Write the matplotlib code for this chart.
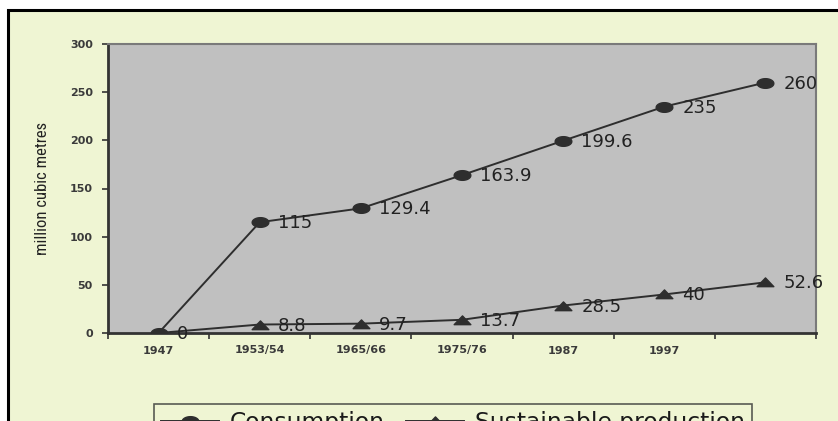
import matplotlib
matplotlib.use("Agg")
import matplotlib.pyplot as plt
from matplotlib.path import Path
from matplotlib.patches import Rectangle
from matplotlib import font_manager
import numpy as np

# ---- data ----
categories = ["1947", "1953/54", "1965/66", "1975/76", "1987", "1997", ""]
consumption = [0, 115, 129.4, 163.9, 199.6, 235, 260]
sustainable = [0, 8.8, 9.7, 13.7, 28.5, 40, 52.6]
consumption_labels = ["0", "115", "129.4", "163.9", "199.6", "235", "260"]
sustainable_labels = ["", "8.8", "9.7", "13.7", "28.5", "40", "52.6"]
series_names = ["Consumption", "Sustainable production"]
y_label = "million cubic metres"

W, H = 838, 421
DPI = 100
BG = "#EFF5D3"
PLOT_BG = "#C0C0C0"
LINE_C = "#2E2E2E"

# pick a condensed font for the y label if one is installed
names = {f.name for f in font_manager.fontManager.ttflist}
cond_fam = None
for cand in ["Liberation Sans Narrow", "Arial Narrow", "Roboto Condensed", "Open Sans Condensed"]:
    if cand in names:
        cond_fam = cand
        break
ylab_kw = {}
if cond_fam:
    ylab_kw = dict(family=[cond_fam, "DejaVu Sans"], fontsize=12)
else:
    cond = [f for f in font_manager.fontManager.ttflist
            if f.name == "DejaVu Sans" and "ondensed" in str(f.stretch) + f.fname]
    if cond:
        ylab_kw = dict(family="DejaVu Sans", fontstretch="condensed", fontsize=11)
    else:
        ylab_kw = dict(family="Liberation Sans", fontsize=11)

fig = plt.figure(figsize=(W / DPI, H / DPI), dpi=DPI, facecolor="white")

# outer frame (black border top/left, pale fill)
frame = Rectangle((8 / W, -0.05), 1.1, 1 - 10 / H + 0.05, transform=fig.transFigure,
                  facecolor=BG, edgecolor="black", linewidth=2.2, zorder=-10)
fig.patches.append(frame)

# flattened marker shapes (the chart is stretched horizontally)
t = np.linspace(0, 2 * np.pi, 40)
ell = Path(np.column_stack([np.cos(t), 0.58 * np.sin(t)]), closed=True)
tri = Path([(-1, -0.5), (1, -0.5), (0, 0.55), (-1, -0.5)], closed=True)

ax = fig.add_axes([108 / W, 1 - 333 / H, (816 - 108) / W, (333 - 44) / H])
ax.set_zorder(1)
ax.set_facecolor(PLOT_BG)
x = np.arange(len(categories))

ax.plot(x, consumption, color=LINE_C, lw=1.4, marker=ell, markersize=12,
        markerfacecolor=LINE_C, markeredgecolor=LINE_C, label=series_names[0], zorder=3)
ax.plot(x, sustainable, color=LINE_C, lw=1.4, marker=tri, markersize=12,
        markerfacecolor=LINE_C, markeredgecolor=LINE_C, label=series_names[1], zorder=3)

for xi, yi, lab in zip(x, consumption, consumption_labels):
    ax.annotate(lab, (xi, yi), xytext=(18, -1), textcoords="offset pixels",
                ha="left", va="center", fontsize=13, color="#222222",
                family="DejaVu Sans", zorder=4, annotation_clip=False)
for xi, yi, lab in zip(x, sustainable, sustainable_labels):
    if lab:
        ax.annotate(lab, (xi, yi), xytext=(18, -1), textcoords="offset pixels",
                    ha="left", va="center", fontsize=13, color="#222222",
                    family="DejaVu Sans", zorder=4, annotation_clip=False)

ax.set_xlim(-0.5, len(categories) - 0.5)
ax.set_ylim(0, 300)
ax.set_yticks(np.arange(0, 301, 50))
ax.set_xticks(x)
ax.set_xticklabels(categories)
ax.set_xticks(np.arange(-0.5, len(categories), 1.0), minor=True)

ax.tick_params(axis="x", which="major", length=0, pad=9, labelsize=8, labelcolor="#3a3a3a")
ax.tick_params(axis="x", which="minor", length=4, width=1.2, color="#333333", direction="out")
ax.tick_params(axis="y", which="major", length=4, width=1.2, color="#333333", pad=7,
               labelsize=8, labelcolor="#3a3a3a")
for lbl in ax.get_xticklabels() + ax.get_yticklabels():
    lbl.set_fontweight("bold")

for s in ["left", "bottom"]:
    ax.spines[s].set_color("#333333")
    ax.spines[s].set_linewidth(2.0)
for s in ["top", "right"]:
    ax.spines[s].set_color("#7a7a7a")
    ax.spines[s].set_linewidth(1.5)

ax.set_ylabel(y_label, color="#222222", labelpad=14, **ylab_kw)

leg = fig.legend(loc="upper left", bbox_to_anchor=(154 / W, 1 - 404 / H), ncol=2,
                 fontsize=16.8, frameon=True, fancybox=False, handlelength=2.5,
                 handletextpad=0.45, columnspacing=0.9, borderpad=0.3,
                 borderaxespad=0, markerscale=1.0)
leg.get_frame().set_facecolor(BG)
leg.get_frame().set_edgecolor("#333333")
leg.get_frame().set_linewidth(1.2)
for txt in leg.get_texts():
    txt.set_color("#1a1a1a")

fig.savefig("out.png", dpi=DPI, facecolor=fig.get_facecolor())
